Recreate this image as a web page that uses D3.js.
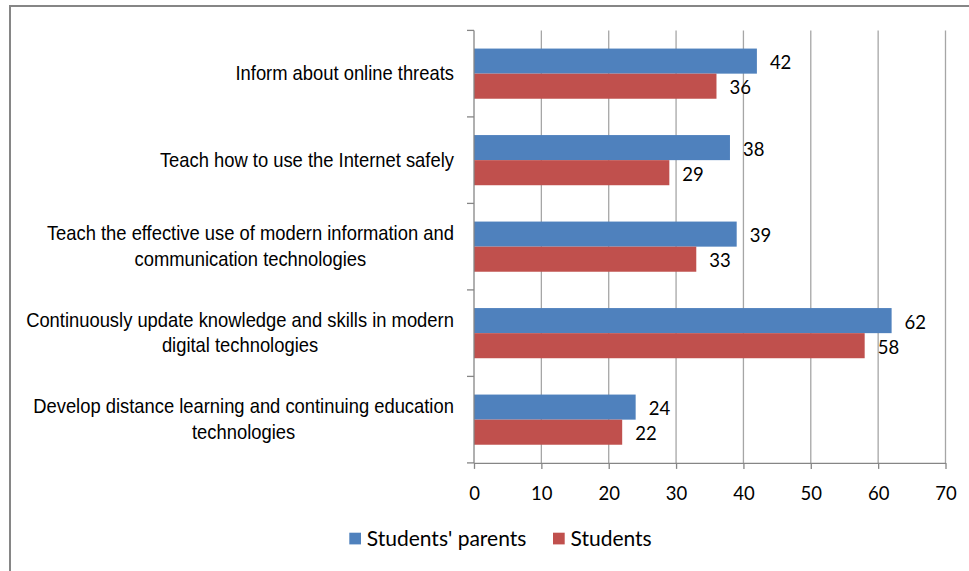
<!DOCTYPE html>
<html>
<head>
<meta charset="utf-8">
<script src="https://cdn.jsdelivr.net/npm/d3@7"></script>
<style>
  html, body { margin: 0; padding: 0; background: #fff; }
  svg { display: block; }
</style>
</head>
<body>
<div id="chart"></div>
<script>
// chart values
var categories = [
  "Inform about online threats",
  "Teach how to use the Internet safely",
  "Teach the effective use of modern information and\ncommunication technologies",
  "Continuously update knowledge and skills in modern\ndigital technologies",
  "Develop distance learning and continuing education\ntechnologies"
];
var parentsValues = [42, 38, 39, 62, 24];
var studentsValues = [36, 29, 33, 58, 22];
var seriesNames = ["Students' parents", "Students"];
var xTicks = [0, 10, 20, 30, 40, 50, 60, 70];

var W = 969, H = 571;
var blue = "#4F81BD", red = "#C0504D";
var plot = { left: 474, right: 945.5, top: 30.4, bottom: 462.9 };

var svg = d3.select("#chart").append("svg")
  .attr("width", W)
  .attr("height", H);

// outer frame (right and bottom edges fall outside the picture)
svg.append("rect")
  .attr("x", 10).attr("y", 6)
  .attr("width", W + 20).attr("height", H + 20)
  .attr("fill", "#fff")
  .attr("stroke", "#868686")
  .attr("stroke-width", 2);

var x = d3.scaleLinear()
  .domain([0, 70])
  .range([plot.left, plot.right]);

var y = d3.scaleBand()
  .domain(categories)
  .range([plot.top, plot.bottom])
  .paddingInner(0.42)
  .paddingOuter(0.21);

// the step between categories, used for the category tick marks
var step = y.step();
var half = y.bandwidth() / 2;

// vertical grid lines
svg.append("g")
  .selectAll("line")
  .data(xTicks.slice(1))
  .enter().append("line")
    .attr("x1", function(d) { return x(d); })
    .attr("x2", function(d) { return x(d); })
    .attr("y1", plot.top)
    .attr("y2", plot.bottom)
    .attr("stroke", "#a6a6a6")
    .attr("stroke-width", 1.3);

// bars
var rows = categories.map(function(c, i) {
  return { cat: c, parents: parentsValues[i], students: studentsValues[i] };
});

var barG = svg.append("g");
barG.selectAll(".bar-parents")
  .data(rows)
  .enter().append("rect")
    .attr("class", "bar-parents")
    .attr("x", x(0))
    .attr("y", function(d) { return y(d.cat); })
    .attr("width", function(d) { return x(d.parents) - x(0); })
    .attr("height", half)
    .attr("fill", blue);

barG.selectAll(".bar-students")
  .data(rows)
  .enter().append("rect")
    .attr("class", "bar-students")
    .attr("x", x(0))
    .attr("y", function(d) { return y(d.cat) + half; })
    .attr("width", function(d) { return x(d.students) - x(0); })
    .attr("height", half)
    .attr("fill", red);

// value labels
var numFont = "Lato, 'Open Sans', sans-serif";
barG.selectAll(".lab-parents")
  .data(rows)
  .enter().append("text")
    .attr("x", function(d) { return x(d.parents) + 13; })
    .attr("y", function(d) { return y(d.cat) + half / 2 + 8; })
    .style("font-family", numFont)
    .style("font-size", "18.5px")
    .style("fill", "#000")
    .text(function(d) { return d.parents; });

barG.selectAll(".lab-students")
  .data(rows)
  .enter().append("text")
    .attr("x", function(d) { return x(d.students) + 13; })
    .attr("y", function(d) { return y(d.cat) + half * 1.5 + 8; })
    .style("font-family", numFont)
    .style("font-size", "18.5px")
    .style("fill", "#000")
    .text(function(d) { return d.students; });

// x axis
var xAxis = svg.append("g")
  .attr("transform", "translate(0," + plot.bottom + ")")
  .call(d3.axisBottom(x).tickValues(xTicks).tickSize(6).tickSizeOuter(0).tickPadding(0));
xAxis.select(".domain").attr("stroke", "#868686").attr("stroke-width", 1.3);
xAxis.selectAll(".tick line").attr("stroke", "#868686").attr("stroke-width", 1.3);
xAxis.selectAll(".tick text").remove();
xAxis.selectAll(".tick").append("text")
  .attr("y", 500 - plot.bottom)
  .attr("text-anchor", "middle")
  .style("font-family", numFont)
  .style("font-size", "18.5px")
  .style("fill", "#000")
  .text(function(d) { return d; });

// y axis line and category ticks
var yAx = svg.append("g");
yAx.append("line")
  .attr("x1", plot.left).attr("x2", plot.left)
  .attr("y1", plot.top).attr("y2", plot.bottom)
  .attr("stroke", "#868686").attr("stroke-width", 1.3);
yAx.selectAll(".ytick")
  .data(d3.range(categories.length + 1))
  .enter().append("line")
    .attr("x1", plot.left - 7).attr("x2", plot.left)
    .attr("y1", function(i) { return plot.top + i * step; })
    .attr("y2", function(i) { return plot.top + i * step; })
    .attr("stroke", "#868686").attr("stroke-width", 1.3);

// category labels: lines centred on each other, block right-aligned at the axis
var squeeze = 0.875;
var labelRight = 454;
var lineH = 25.7;
categories.forEach(function(c) {
  var lines = c.split("\n");
  var cy = y(c) + half;
  var g = svg.append("g");
  var inner = g.append("g");
  lines.forEach(function(t, k) {
    inner.append("text")
      .attr("x", 0)
      .attr("y", (k - (lines.length - 1) / 2) * lineH + 6.5)
      .attr("text-anchor", "middle")
      .style("font-family", "'Liberation Sans', Arial, sans-serif")
      .style("font-size", "21px")
      .style("fill", "#000")
      .text(t);
  });
  var maxW = 0;
  inner.selectAll("text").each(function() {
    maxW = Math.max(maxW, this.getComputedTextLength());
  });
  inner.attr("transform", "scale(" + squeeze + ",1)");
  g.attr("transform", "translate(" + (labelRight - maxW * squeeze / 2) + "," + cy + ")");
});

// legend
var legend = svg.append("g");
var legendItems = [
  { name: seriesNames[0], color: blue, x: 349.3 },
  { name: seriesNames[1], color: red, x: 553 }
];
legendItems.forEach(function(d) {
  legend.append("rect")
    .attr("x", d.x).attr("y", 532.7)
    .attr("width", 11.7).attr("height", 11.7)
    .attr("fill", d.color);
  legend.append("text")
    .attr("x", d.x + 17.5)
    .attr("y", 546)
    .style("font-family", numFont)
    .style("font-size", "21px")
    .style("fill", "#000")
    .text(d.name);
});
</script>
</body>
</html>
